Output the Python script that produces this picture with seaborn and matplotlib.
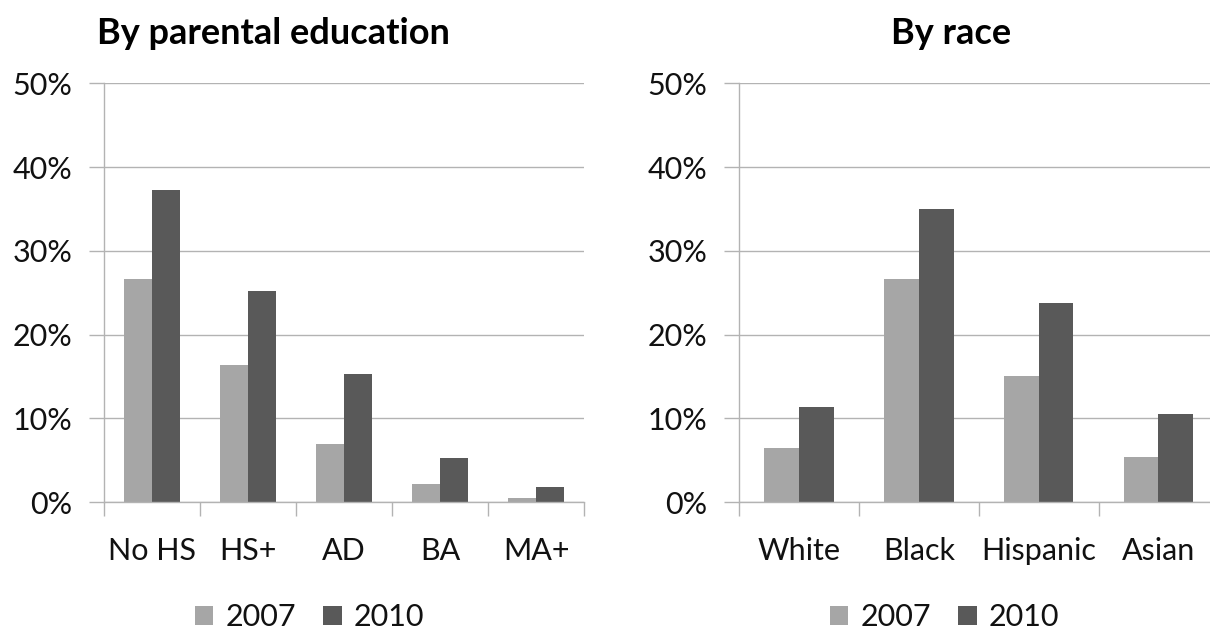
import matplotlib
matplotlib.use("Agg")
import matplotlib.pyplot as plt
import seaborn as sns
import pandas as pd
from matplotlib.ticker import FixedLocator, FuncFormatter

# ---- data ----
edu_categories = ["No HS", "HS+", "AD", "BA", "MA+"]
edu_2007 = [26.6, 16.4, 6.9, 2.1, 0.5]
edu_2010 = [37.3, 25.2, 15.3, 5.3, 1.8]

race_categories = ["White", "Black", "Hispanic", "Asian"]
race_2007 = [6.5, 26.6, 15.1, 5.4]
race_2010 = [11.4, 35.0, 23.8, 10.5]

years = ["2007", "2010"]
y_ticks = [0, 10, 20, 30, 40, 50]

sns.set_theme(style="white")
plt.rcParams["font.family"] = ["Lato", "DejaVu Sans"]

W, H = 1210, 633
fig = plt.figure(figsize=(W / 100, H / 100), dpi=100)

GRID = "#b3b3b3"
palette = {"2007": "#a6a6a6", "2010": "#595959"}
FS = 22


def long_df(cats, a, b):
    return pd.DataFrame({
        "cat": cats * 2,
        "year": [years[0]] * len(cats) + [years[1]] * len(cats),
        "val": list(a) + list(b),
    })


def px_axes(x0, x1, ytop, ybot):
    return fig.add_axes([x0 / W, (H - ybot) / H, (x1 - x0) / W, (ybot - ytop) / H])


def draw(ax, cats, a, b):
    df = long_df(cats, a, b)
    sns.barplot(data=df, x="cat", y="val", hue="year", palette=palette,
                width=0.58, ax=ax, saturation=1, edgecolor="none", linewidth=0)
    leg = ax.get_legend()
    handles = list(leg.legend_handles)
    labels = [t.get_text() for t in leg.get_texts()]
    leg.remove()
    n = len(cats)
    ax.set_xlim(-0.5, n - 0.5)
    ax.set_ylim(0, 50)
    ax.set_xlabel("")
    ax.set_ylabel("")
    ax.yaxis.set_major_locator(FixedLocator(y_ticks))
    ax.yaxis.set_major_formatter(FuncFormatter(lambda v, p: f"{v:.0f}%"))
    ax.grid(axis="y", color=GRID, linewidth=1.0)
    ax.set_axisbelow(True)
    for s in ["top", "right"]:
        ax.spines[s].set_visible(False)
    for s in ["left", "bottom"]:
        ax.spines[s].set_color(GRID)
        ax.spines[s].set_linewidth(1.0)
    ax.set_xticks(range(n))
    ax.set_xticklabels(cats)
    ax.xaxis.set_minor_locator(FixedLocator([i - 0.5 for i in range(n + 1)]))
    ax.tick_params(axis="x", which="major", length=0, pad=25, labelsize=FS,
                   labelcolor="#111111")
    ax.tick_params(axis="x", which="minor", length=10, width=1.0, color=GRID,
                   direction="out", bottom=True)
    ax.tick_params(axis="y", which="major", length=11, width=1.0, color=GRID,
                   direction="out", left=True, pad=12, labelsize=FS,
                   labelcolor="#111111")
    return handles, labels


ax1 = px_axes(104, 584, 83.3, 502)
h1, l1 = draw(ax1, edu_categories, edu_2007, edu_2010)

ax2 = px_axes(739.3, 1218.3, 83.3, 502)
h2, l2 = draw(ax2, race_categories, race_2007, race_2010)

fig.text(97 / W, 1 - 33 / H, "By parental education", ha="left", va="center",
         fontsize=26, fontweight="bold", color="#000000")
fig.text(951 / W, 1 - 33 / H, "By race", ha="center", va="center",
         fontsize=26, fontweight="bold", color="#000000")

for cx, hs, ls in [(309.5, h1, l1), (944.5, h2, l2)]:
    fig.legend(hs, ls, loc="center", bbox_to_anchor=(cx / W, 1 - 617 / H),
               ncol=2, frameon=False, fontsize=FS, handlelength=0.6,
               handleheight=0.6, handletextpad=0.4, columnspacing=0.9,
               borderpad=0, borderaxespad=0, labelcolor="#111111")

fig.savefig("out.png", dpi=100)
